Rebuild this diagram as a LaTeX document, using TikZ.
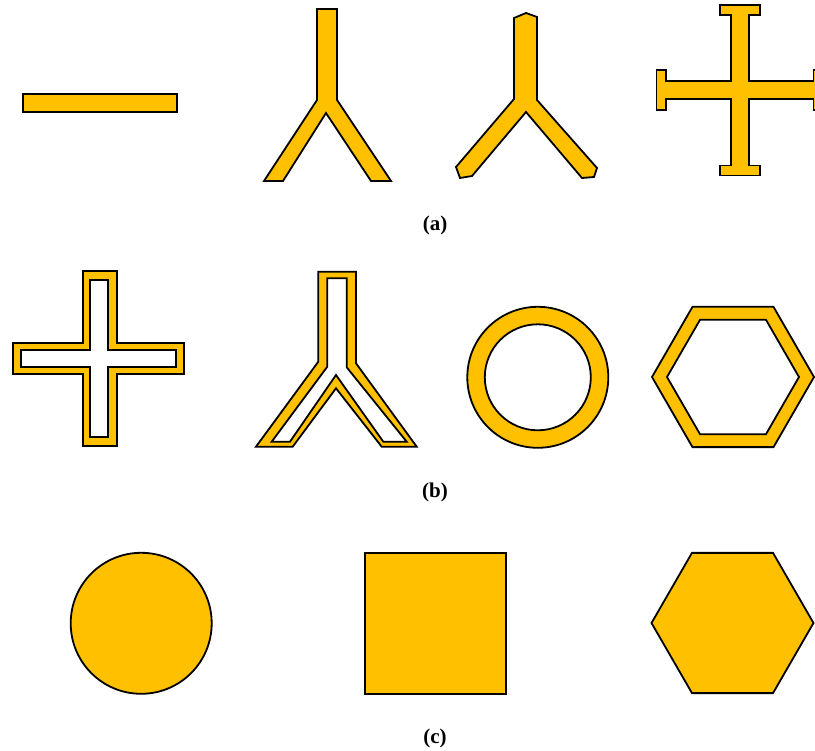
\documentclass[tikz,border=0pt]{standalone}
\usepackage{fontspec}
\setmainfont{Liberation Serif}
\definecolor{gold}{HTML}{FFC000}
\tikzset{
  shp/.style={fill=gold, draw=black, line width=1.8pt, line join=miter},
  hollow/.style={shp, even odd rule},
  lbl/.style={font=\fontsize{21}{24}\selectfont\bfseries, inner sep=0pt}
}
\begin{document}
\begin{tikzpicture}[x=1pt,y=-1pt]
\useasboundingbox (0,0) rectangle (815,751);
\clip (0,0) rectangle (815,751);
% ---------- row (a) ----------
\draw[shp] (23,94) rectangle (177,112);
\draw[shp] (317,9) -- (337,9) -- (337,100) -- (391,181) -- (371,181) -- (326,113) -- (283,181) -- (264,181) -- (317,100) -- cycle;
\draw[shp] (514,18) -- (526,13) -- (537,17) -- (537,100) -- (597,168) -- (594,177) -- (582,178) -- (526,112) -- (472,176) -- (460,178) -- (456,167) -- (514,99) -- cycle;
\draw[shp] (720.3,5) -- (759.7,5) -- (759.7,15) -- (749.3,15) -- (749.3,80.7)
  -- (813.5,80.7) -- (813.5,70.3) -- (823,70.3) -- (823,109.7) -- (813.5,109.7) -- (813.5,99.3) -- (749.3,99.3)
  -- (749.3,165.5) -- (759.7,165.5) -- (759.7,175.5) -- (720.3,175.5) -- (720.3,165.5) -- (730.7,165.5) -- (730.7,99.3)
  -- (666,99.3) -- (666,109.7) -- (656.5,109.7) -- (656.5,70.3) -- (666,70.3) -- (666,80.7) -- (730.7,80.7)
  -- (730.7,15) -- (720.3,15) -- cycle;
\node[lbl] (la) at (435,225) {(a)};
% ---------- row (b) ----------
\draw[hollow] (82.7,270.7) -- (117.3,270.7) -- (117.3,342.7) -- (184,342.7) -- (184,374.3) -- (117.3,374.3) -- (117.3,446) -- (82.7,446) -- (82.7,374.3) -- (13.3,374.3) -- (13.3,342.7) -- (82.7,342.7) -- cycle
  (90,280) -- (107.7,280) -- (107.7,350) -- (176,350) -- (176,367.3) -- (107.7,367.3) -- (107.7,436.7) -- (90,436.7) -- (90,367.3) -- (21,367.3) -- (21,350) -- (90,350) -- cycle;
\draw[hollow] (318.3,271.7) -- (356,271.7) -- (356,363.3) -- (416.7,446.7) -- (381.7,446.7) -- (336,388.3) -- (292.7,446.7) -- (256,446.7) -- (318.3,361.7) -- cycle
  (327.3,278.3) -- (346.7,278.3) -- (346.7,367.3) -- (406.7,441.7) -- (383.3,441.7) -- (336,375) -- (290,441.7) -- (271.7,441.7) -- (327.3,366.7) -- cycle;
\draw[hollow] (537.8,377.3) circle[radius=70.5pt] (537.8,377.3) circle[radius=53pt];
\draw[hollow] (733,377) ++(0:81pt) -- ++(120:81pt) -- ++(180:81pt) -- ++(240:81pt) -- ++(300:81pt) -- ++(0:81pt) -- cycle
  (733,377) ++(0:66pt) -- ++(120:66pt) -- ++(180:66pt) -- ++(240:66pt) -- ++(300:66pt) -- ++(0:66pt) -- cycle;
\node[lbl] (lb) at (435,492) {(b)};
% ---------- row (c) ----------
\draw[shp] (141.2,623.3) circle[radius=70.5pt];
\draw[shp] (365,553.3) rectangle (505.7,694);
\draw[shp] (732.5,623) ++(0:81pt) -- ++(120:81pt) -- ++(180:81pt) -- ++(240:81pt) -- ++(300:81pt) -- ++(0:81pt) -- cycle;
\node[lbl] (lc) at (435,738) {(c)};
\end{tikzpicture}
\end{document}
